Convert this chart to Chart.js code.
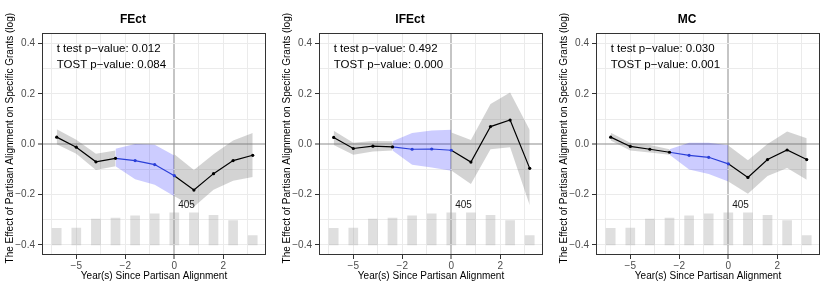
<!DOCTYPE html>
<html>
<head>
<meta charset="utf-8">
<script src="https://cdn.jsdelivr.net/npm/chart.js"></script>
<style>
  body { margin: 0; background: #fff; }
  #wrap { display: flex; width: 830px; height: 293px; }
  canvas { display: block; }
</style>
</head>
<body>
<div id="wrap">
  <canvas id="c0" width="277" height="293"></canvas>
  <canvas id="c1" width="277" height="293"></canvas>
  <canvas id="c2" width="276" height="293"></canvas>
</div>
<script>
// --- data ---
const panelTitles = ['FEct', 'IFEct', 'MC'];
const tTestP = ['0.012', '0.492', '0.030'];
const tostP = ['0.084', '0.000', '0.001'];

// x positions of the 11 periods (axis units: one major tick = 1)
const xPos = [-2.4, -2, -1.6, -1.2, -0.8, -0.4, 0, 0.4, 0.8, 1.2, 1.6];
const xTickPos = [-2, -1, 0, 1];
const xTickLabels = ['\u22125', '\u22122', '0', '2'];
const xMinorPos = [-2.5, -1.5, -0.5, 0.5, 1.5];
const yTickPos = [-0.4, -0.2, 0, 0.2, 0.4];
const yTickLabels = ['\u22120.4', '\u22120.2', '0.0', '0.2', '0.4'];
const yMinorPos = [-0.3, -0.1, 0.1, 0.3];

// observation-count bars (same in every panel), drawn from -0.4 up
const barBase = -0.4;
const barTops = [-0.334, -0.333, -0.297, -0.293, -0.284, -0.277, -0.273, -0.273, -0.282, -0.303, -0.363];
const barCountLabel = '405';

// FEct
const fectEst = [0.028, -0.012, -0.070, -0.056, -0.065, -0.081, -0.125, -0.182, -0.117, -0.065, -0.044];
const fectHi  = [0.059, 0.018, -0.038, -0.025, null, null, -0.040, -0.102, -0.040, 0.015, 0.044];
const fectLo  = [0.000, -0.038, -0.102, -0.088, null, null, -0.207, -0.248, -0.181, -0.145, -0.130];
const fectEqHi = [null, null, null, -0.018, 0.001, -0.002, -0.045, null, null, null, null];
const fectEqLo = [null, null, null, -0.088, -0.139, -0.161, -0.207, null, null, null, null];

// IFEct
const ifectEst = [0.027, -0.017, -0.008, -0.011, -0.020, -0.019, -0.024, -0.071, 0.070, 0.096, -0.096];
const ifectHi  = [0.053, 0.006, 0.013, 0.012, null, null, 0.046, 0.017, 0.160, 0.205, 0.056];
const ifectLo  = [-0.003, -0.042, -0.029, -0.025, null, null, -0.104, -0.158, -0.020, -0.012, -0.242];
const ifectEqHi = [null, null, null, 0.012, 0.044, 0.054, 0.057, null, null, null, null];
const ifectEqLo = [null, null, null, -0.025, -0.082, -0.093, -0.105, null, null, null, null];

// MC
const mcEst = [0.028, -0.009, -0.020, -0.032, -0.044, -0.052, -0.078, -0.132, -0.061, -0.023, -0.061];
const mcHi  = [0.045, 0.006, -0.003, -0.020, null, null, -0.005, -0.064, 0.001, 0.050, 0.024];
const mcLo  = [0.015, -0.025, -0.033, -0.042, null, null, -0.148, -0.197, -0.126, -0.095, -0.141];
const mcEqHi = [null, null, null, -0.020, 0.006, 0.006, -0.004, null, null, null, null];
const mcEqLo = [null, null, null, -0.042, -0.100, -0.118, -0.148, null, null, null, null];

const panels = [
  { est: fectEst, hi: fectHi, lo: fectLo, eqHi: fectEqHi, eqLo: fectEqLo },
  { est: ifectEst, hi: ifectHi, lo: ifectLo, eqHi: ifectEqHi, eqLo: ifectEqLo },
  { est: mcEst, hi: mcHi, lo: mcLo, eqHi: mcEqHi, eqLo: mcEqLo }
];

const FONT = '"Liberation Sans", Arial, Helvetica, sans-serif';
const BLUE = '#2b3fd8';
const GRAY_BAND = 'rgba(110,110,110,0.3)';
const BLUE_BAND = 'rgba(0,0,255,0.2)';
const GRID = '#ebebeb';
const ZERO = 'rgba(150,150,150,0.55)';

Chart.defaults.font.family = FONT;

function pts(vals, from, to) {
  const out = [];
  for (let i = from; i <= to; i++) out.push({ x: xPos[i], y: vals[i] });
  return out;
}
function near(list, v) {
  return list.findIndex(t => Math.abs(t - v) < 1e-9);
}

// panel border, notes, count label and y title
const decor = {
  id: 'decor',
  afterDraw(chart, args, opts) {
    const { ctx, chartArea: a, scales: { x, y } } = chart;
    ctx.save();
    ctx.strokeStyle = '#333';
    ctx.lineWidth = 1;
    ctx.strokeRect(Math.round(a.left) + 0.5, Math.round(a.top) + 0.5,
      Math.round(a.right - a.left) - 1, Math.round(a.bottom - a.top) - 1);

    ctx.fillStyle = '#000';
    ctx.textBaseline = 'middle';
    ctx.textAlign = 'left';
    ctx.font = '11.5px ' + FONT;
    const nx = x.getPixelForValue(xPos[0]);
    ctx.fillText('t test p\u2212value: ' + opts.t, nx, y.getPixelForValue(0.38));
    ctx.fillText('TOST p\u2212value: ' + opts.tost, nx, y.getPixelForValue(0.314));

    ctx.textAlign = 'center';
    ctx.font = '10px ' + FONT;
    ctx.fillStyle = '#1a1a1a';
    ctx.fillText(barCountLabel, x.getPixelForValue(0.25), y.getPixelForValue(-0.242));

    ctx.fillStyle = '#000';
    ctx.translate(10, (a.top + a.bottom) / 2 - 6);
    ctx.rotate(-Math.PI / 2);
    ctx.fillText('The Effect of Partisan Alignment on Specific Grants (log)', 0, 0);
    ctx.restore();
  }
};

panels.forEach((p, k) => {
  const segBlue = c => (c.p0DataIndex >= 3 && c.p1DataIndex <= 6) ? BLUE : undefined;
  const band = (vals, from, to, fill, color) => ({
    type: 'line', data: pts(vals, from, to), borderColor: 'transparent', borderWidth: 0,
    pointRadius: 0, fill: fill, backgroundColor: color, tension: 0
  });

  const datasets = [
    {
      type: 'line', data: pts(p.est, 0, 10), order: 0,
      borderColor: '#000', borderWidth: 1.2, tension: 0, fill: false,
      segment: { borderColor: segBlue },
      pointRadius: 1.6, pointBorderWidth: 0, pointHoverRadius: 0,
      pointBackgroundColor: c => (c.dataIndex >= 4 && c.dataIndex <= 6) ? BLUE : '#000'
    },
    Object.assign(band(p.eqLo, 3, 6, false, BLUE_BAND), { order: 2 }),
    Object.assign(band(p.eqHi, 3, 6, '-1', BLUE_BAND), { order: 2 }),
    Object.assign(band(p.lo, 0, 3, false, GRAY_BAND), { order: 3 }),
    Object.assign(band(p.hi, 0, 3, '-1', GRAY_BAND), { order: 3 }),
    Object.assign(band(p.lo, 6, 10, false, GRAY_BAND), { order: 3 }),
    Object.assign(band(p.hi, 6, 10, '-1', GRAY_BAND), { order: 3 }),
    {
      type: 'bar', order: 5,
      data: xPos.map((x, i) => ({ x: x, y: [barBase, barTops[i]] })),
      backgroundColor: 'rgba(150,150,150,0.3)', borderWidth: 0, barThickness: 9
    }
  ];

  new Chart(document.getElementById('c' + k), {
    type: 'line',
    data: { datasets: datasets },
    options: {
      responsive: false,
      animation: false,
      events: [],
      layout: { padding: { top: 0, right: k === 2 ? 10 : 11, bottom: 0, left: 0 } },
      plugins: {
        legend: { display: false },
        tooltip: { enabled: false },
        title: {
          display: true, text: panelTitles[k], color: '#000',
          font: { size: 12, weight: 'bold' }, padding: { top: 12, bottom: 7 }
        },
        decor: { t: tTestP[k], tost: tostP[k] }
      },
      scales: {
        x: {
          type: 'linear', min: -2.7, max: 1.871, offset: false,
          afterBuildTicks: s => {
            s.ticks = xMinorPos.concat(xTickPos).sort((a, b) => a - b).map(v => ({ value: v }));
          },
          afterFit: s => { s.height = 38; },
          border: { display: false },
          grid: {
            offset: false,
            color: c => c.tick && Math.abs(c.tick.value) < 1e-9 ? ZERO : GRID,
            lineWidth: c => c.tick && Math.abs(c.tick.value) < 1e-9 ? 2 : 1,
            tickLength: 4, tickWidth: 1,
            tickColor: c => c.tick && near(xTickPos, c.tick.value) >= 0 ? '#333' : 'rgba(0,0,0,0)'
          },
          ticks: {
            autoSkip: false, maxRotation: 0, padding: 1, color: '#4d4d4d', font: { size: 10 },
            callback: v => { const i = near(xTickPos, v); return i >= 0 ? xTickLabels[i] : ''; }
          },
          title: {
            display: true, text: 'Year(s) Since Partisan Alignment', color: '#000',
            font: { size: 10 }, padding: { top: 0, bottom: 11 }
          }
        },
        y: {
          type: 'linear', min: -0.44, max: 0.44,
          afterBuildTicks: s => {
            s.ticks = yMinorPos.concat(yTickPos).sort((a, b) => a - b).map(v => ({ value: v }));
          },
          afterFit: s => { s.width = 42; },
          border: { display: false },
          grid: {
            color: c => c.tick && Math.abs(c.tick.value) < 1e-9 ? ZERO : GRID,
            lineWidth: c => c.tick && Math.abs(c.tick.value) < 1e-9 ? 2 : 1,
            tickLength: 4, tickWidth: 1,
            tickColor: c => c.tick && near(yTickPos, c.tick.value) >= 0 ? '#333' : 'rgba(0,0,0,0)'
          },
          ticks: {
            autoSkip: false, padding: 3, color: '#4d4d4d', font: { size: 10 },
            callback: v => { const i = near(yTickPos, v); return i >= 0 ? yTickLabels[i] : ''; }
          }
        }
      }
    },
    plugins: [decor]
  });
});
</script>
</body>
</html>
